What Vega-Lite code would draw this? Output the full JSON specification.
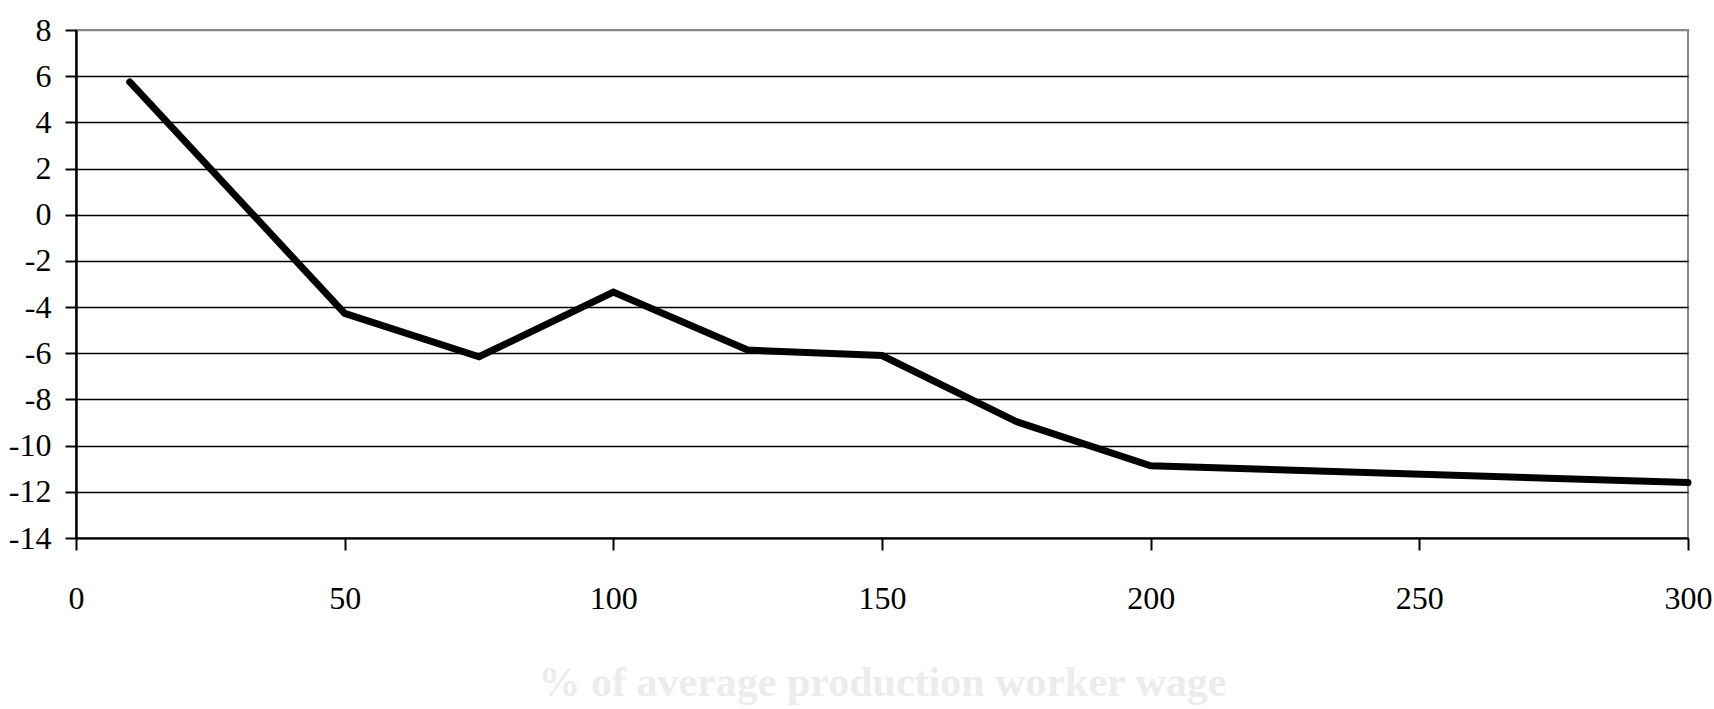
{
  "$schema": "https://vega.github.io/schema/vega-lite/v6.json",
  "width": 1612,
  "height": 508,
  "autosize": "none",
  "padding": {"left": 76, "top": 30, "right": 26, "bottom": 171},
  "background": "white",
  "config": {
    "view": {"stroke": "#888888", "strokeWidth": 2},
    "axis": {"labelFont": "Liberation Serif", "titleFont": "Liberation Serif"}
  },
  "data": {
    "values": [
      {"wage": 10, "value": 5.75},
      {"wage": 50, "value": -4.27},
      {"wage": 75, "value": -6.15},
      {"wage": 100, "value": -3.35},
      {"wage": 125, "value": -5.86},
      {"wage": 150, "value": -6.1},
      {"wage": 175, "value": -8.96},
      {"wage": 200, "value": -10.87},
      {"wage": 300, "value": -11.6}
    ]
  },
  "mark": {"type": "line", "color": "black", "strokeWidth": 7, "strokeCap": "round", "strokeJoin": "miter"},
  "encoding": {
    "x": {
      "field": "wage",
      "type": "quantitative",
      "scale": {"domain": [0, 300], "nice": false},
      "axis": {
        "values": [0, 50, 100, 150, 200, 250, 300],
        "grid": false,
        "domainColor": "black",
        "domainWidth": 2,
        "tickColor": "black",
        "tickWidth": 2,
        "tickSize": 12,
        "labelFontSize": 32,
        "labelColor": "black",
        "labelPadding": 33,
        "labelFlush": false,
        "title": "% of average production worker wage",
        "titleFontSize": 42,
        "titleFontWeight": "bold",
        "titleColor": "#ececec",
        "titlePadding": 48
      }
    },
    "y": {
      "field": "value",
      "type": "quantitative",
      "scale": {"domain": [-14, 8], "nice": false, "zero": false},
      "axis": {
        "values": [-14, -12, -10, -8, -6, -4, -2, 0, 2, 4, 6, 8],
        "labelExpr": "toString(datum.value)",
        "grid": true,
        "gridColor": {"condition": {"test": "datum.value == 8", "value": "#888888"}, "value": "black"},
        "gridWidth": 1.6,
        "gridOpacity": 1,
        "domainColor": "black",
        "domainWidth": 2.5,
        "tickColor": "black",
        "tickWidth": 2,
        "tickSize": 11,
        "labelFontSize": 32,
        "labelColor": "black",
        "labelPadding": 14,
        "labelBaseline": "middle",
        "labelFlush": false,
        "title": null
      }
    }
  }
}
